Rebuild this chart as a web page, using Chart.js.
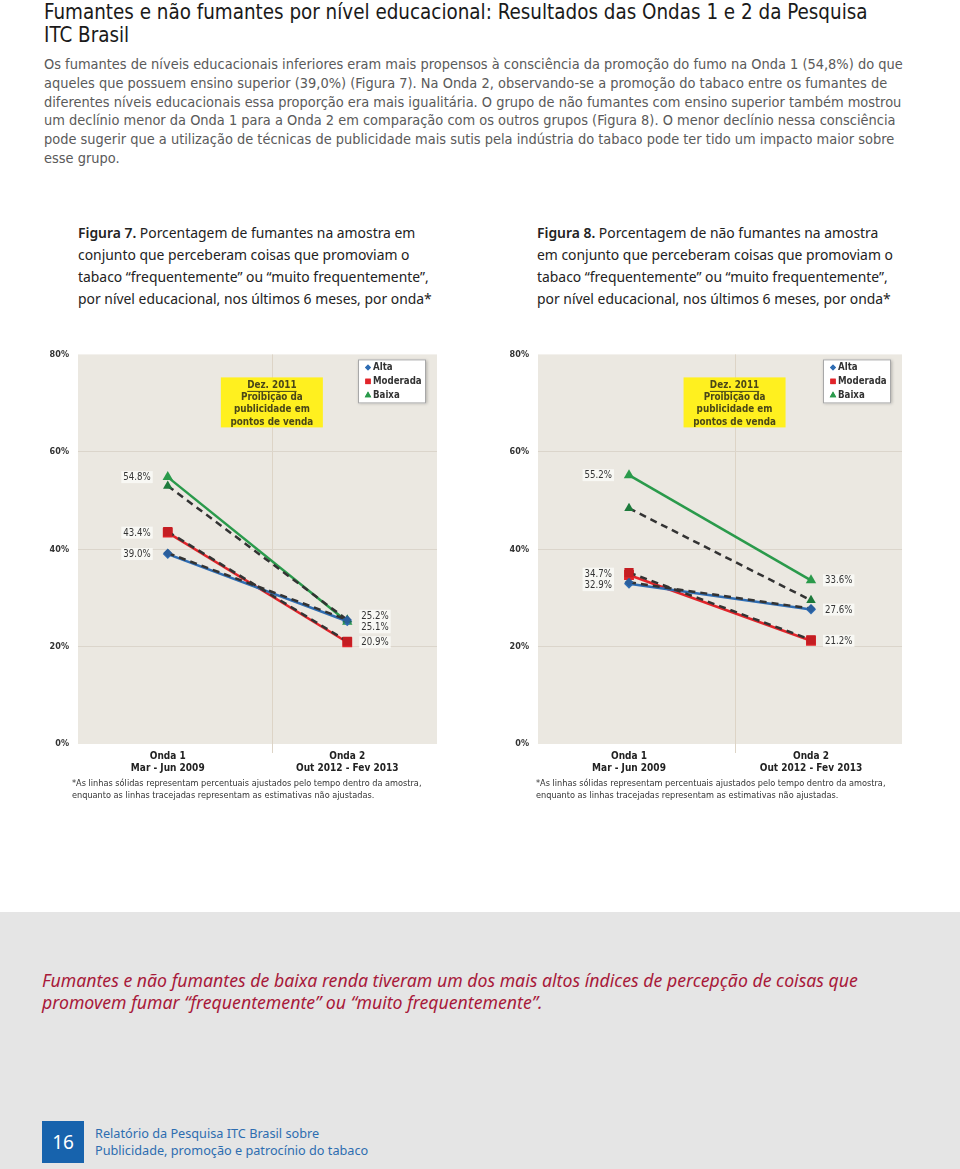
<!DOCTYPE html>
<html lang="pt">
<head>
<meta charset="utf-8">
<title>Figuras 7 e 8</title>
<script src="https://cdn.jsdelivr.net/npm/chart.js@4.4.1/dist/chart.umd.min.js"></script>
<style>
  body { margin: 0; width: 960px; height: 1169px; position: relative; background: #fff; overflow: hidden;
         font-family: "DejaVu Sans Condensed", sans-serif; }
  .abs { position: absolute; white-space: nowrap; }
  h1 { position: absolute; left: 44px; top: 1px; margin: 0; font-size: 20.4px; line-height: 23px;
       font-weight: normal; color: #1a1a1a; white-space: nowrap; }
  .intro { left: 44px; top: 55px; font-size: 14.45px; line-height: 18.8px; color: #5a5a5a; }
  .caption { top: 222px; font-family: "Noto Sans", sans-serif; font-size: 13.9px; line-height: 22px; color: #222; }
  .caption b { font-weight: 600; }
  .note { font-size: 9.1px; line-height: 11.7px; color: #333; }
  .band { left: 0; top: 912px; width: 960px; height: 257px; background: #e5e5e5; }
  .quote { left: 42px; top: 969px; font-family: "Noto Sans", sans-serif; font-style: italic;
           font-size: 17.7px; line-height: 22px; color: #a8193a; }
  .page { left: 42px; top: 1121px; width: 42px; height: 42px; background: #1763ad; color: #fff;
          font-family: "Noto Sans", sans-serif; font-size: 19px; line-height: 42px; text-align: center; }
  .footer { left: 95px; top: 1125px; font-family: "Noto Sans", sans-serif; font-size: 12.7px; line-height: 17px; color: #2d6db0; }
  canvas { position: absolute; }
</style>
</head>
<body>
<h1>Fumantes e não fumantes por nível educacional: Resultados das Ondas 1 e 2 da Pesquisa<br>ITC Brasil</h1>
<div class="abs intro">Os fumantes de níveis educacionais inferiores eram mais propensos à consciência da promoção do fumo na Onda 1 (54,8%) do que<br>aqueles que possuem ensino superior (39,0%) (Figura 7). Na Onda 2, observando-se a promoção do tabaco entre os fumantes de<br>diferentes níveis educacionais essa proporção era mais igualitária. O grupo de não fumantes com ensino superior também mostrou<br>um declínio menor da Onda 1 para a Onda 2 em comparação com os outros grupos (Figura 8). O menor declínio nessa consciência<br>pode sugerir que a utilização de técnicas de publicidade mais sutis pela indústria do tabaco pode ter tido um impacto maior sobre<br>esse grupo.</div>

<div class="abs caption" style="left:78px"><b>Figura 7.</b> Porcentagem de fumantes na amostra em<br>conjunto que perceberam coisas que promoviam o<br>tabaco “frequentemente” ou “muito frequentemente”,<br>por nível educacional, nos últimos 6 meses, por onda*</div>
<div class="abs caption" style="left:537px"><b>Figura 8.</b> Porcentagem de não fumantes na amostra<br>em conjunto que perceberam coisas que promoviam o<br>tabaco “frequentemente” ou “muito frequentemente”,<br>por nível educacional, nos últimos 6 meses, por onda*</div>

<canvas id="fig7" style="left:40px; top:340px" width="420" height="444"></canvas>
<canvas id="fig8" style="left:500px; top:340px" width="420" height="444"></canvas>

<div class="abs note" style="left:72px; top:778px">*As linhas sólidas representam percentuais ajustados pelo tempo dentro da amostra,<br>enquanto as linhas tracejadas representam as estimativas não ajustadas.</div>
<div class="abs note" style="left:536px; top:778px">*As linhas sólidas representam percentuais ajustados pelo tempo dentro da amostra,<br>enquanto as linhas tracejadas representam as estimativas não ajustadas.</div>

<div class="abs band"></div>
<div class="abs quote">Fumantes e não fumantes de baixa renda tiveram um dos mais altos índices de percepção de coisas que<br>promovem fumar “frequentemente” ou “muito frequentemente”.</div>
<div class="abs page">16</div>
<div class="abs footer">Relatório da Pesquisa ITC Brasil sobre<br>Publicidade, promoção e patrocínio do tabaco</div>

<script>
const waves = [['Onda 1', 'Mar - Jun 2009'], ['Onda 2', 'Out 2012 - Fev 2013']]
const groups = ['Alta', 'Moderada', 'Baixa']
const yTicks = [0, 20, 40, 60, 80]

// Figura 7: fumantes (solid = adjusted, raw = dashed, unadjusted)
const fig7Alta = [39.0, 25.2]
const fig7Moderada = [43.4, 20.9]
const fig7Baixa = [54.8, 25.1]
const fig7AltaRaw = [39.2, 25.5]
const fig7ModeradaRaw = [43.6, 21.1]
const fig7BaixaRaw = [53.0, 25.5]

// Figura 8: não fumantes
const fig8Alta = [32.9, 27.6]
const fig8Moderada = [34.7, 21.2]
const fig8Baixa = [55.2, 33.6]
const fig8AltaRaw = [33.2, 27.8]
const fig8ModeradaRaw = [35.2, 21.4]
const fig8BaixaRaw = [48.4, 29.5]

// Dez. 2011 ad ban, as a category index between the two waves
const banAt = 0.58
const banNote = ['Dez. 2011', 'Proibição da', 'publicidade em', 'pontos de venda']

const colors = { Alta: '#2f6db3', Moderada: '#e1242a', Baixa: '#2a9a4b' }
const rawColors = { Alta: '#2a5e9c', Moderada: '#c41d22', Baixa: '#1d7a3b' }
const shapes = { Alta: 'rectRot', Moderada: 'rect', Baixa: 'triangle' }
const sizes = { Alta: 5, Moderada: 7, Baixa: 6 }
const chartFont = '"DejaVu Sans Condensed", sans-serif'

function solid(group, data) {
  return {
    label: group, data, order: 1,
    borderColor: colors[group], backgroundColor: colors[group], borderWidth: 2.5,
    pointStyle: shapes[group], pointRadius: sizes[group], pointBorderWidth: 0
  }
}

function dashed(group, data) {
  return {
    label: group + ' (não ajustada)', data, order: 0, raw: true,
    borderColor: '#333', backgroundColor: rawColors[group], borderWidth: 2.5, borderDash: [7, 5],
    pointStyle: shapes[group], pointRadius: sizes[group] - 0.5, pointBorderWidth: 0
  }
}

const decorations = {
  id: 'decorations',
  beforeDraw(chart) {
    const { ctx, chartArea: a, scales: { x } } = chart
    ctx.save()
    ctx.fillStyle = '#ebe8e1'
    ctx.fillRect(a.left, a.top, a.right - a.left, a.bottom - a.top)
    const bx = Math.round(x.getPixelForValue(banAt)) + 0.5
    ctx.strokeStyle = '#ddd4c6'
    ctx.lineWidth = 1
    ctx.beginPath()
    ctx.moveTo(bx, a.top)
    ctx.lineTo(bx, a.bottom + 9)
    ctx.stroke()
    ctx.restore()
  },
  afterDatasetsDraw(chart) {
    const { ctx, chartArea: a, scales: { x } } = chart
    ctx.save()
    // yellow note at the ban line
    const bx = x.getPixelForValue(banAt)
    const w = 102, h = 50, top = a.top + 23
    ctx.fillStyle = '#fff01f'
    ctx.fillRect(bx - w / 2, top, w, h)
    ctx.fillStyle = '#4a4718'
    ctx.font = 'bold 9.8px ' + chartFont
    ctx.textAlign = 'center'
    ctx.textBaseline = 'middle'
    banNote.forEach((line, i) => {
      const ty = top + 8 + i * 12.2
      ctx.fillText(line, bx, ty)
      if (i === 0) {
        const tw = ctx.measureText(line).width
        ctx.fillRect(bx - tw / 2, ty + 5.5, tw, 1)
      }
    })

    // legend box
    const lw = 68, lh = 44, lx = a.right - 11 - lw, ly = a.top + 5
    ctx.shadowColor = 'rgba(0,0,0,0.25)'
    ctx.shadowBlur = 3
    ctx.shadowOffsetX = 1
    ctx.shadowOffsetY = 1
    ctx.fillStyle = '#fff'
    ctx.fillRect(lx, ly, lw, lh)
    ctx.shadowColor = 'transparent'
    ctx.strokeStyle = '#a8a8a8'
    ctx.strokeRect(lx + 0.5, ly + 0.5, lw - 1, lh - 1)
    ctx.textAlign = 'left'
    ctx.font = 'bold 9.6px ' + chartFont
    groups.forEach((g, i) => {
      const cy = ly + 8 + i * 14
      ctx.fillStyle = colors[g]
      ctx.beginPath()
      Chart.helpers.drawPoint(ctx, { pointStyle: shapes[g], radius: g === 'Alta' ? 3 : 3.8, borderWidth: 0 }, lx + 10, cy)
      ctx.fill()
      ctx.fillStyle = '#333'
      ctx.fillText(g, lx + 15, cy + 0.5)
    })

    // value labels for the adjusted (solid) series, pushed apart when they collide
    ctx.font = '9.6px ' + chartFont
    const sides = [[], []]
    chart.data.datasets.forEach((ds, di) => {
      if (ds.raw) return
      chart.getDatasetMeta(di).data.forEach((pt, i) => {
        sides[i].push({ text: ds.data[i].toFixed(1) + '%', x: pt.x, y: pt.y })
      })
    })
    sides.forEach((list, side) => {
      list.sort((p, q) => p.y - q.y)
      const gap = 11.5
      for (let i = 1; i < list.length; i++) {
        if (list[i].y - list[i - 1].y < gap) {
          const mid = (list[i].y + list[i - 1].y) / 2
          list[i - 1].y = mid - gap / 2
          list[i].y = mid + gap / 2
        }
      }
      list.forEach(l => {
        const tw = ctx.measureText(l.text).width
        const tx = side === 0 ? l.x - 17 - tw : l.x + 14
        ctx.fillStyle = 'rgba(250,249,246,0.9)'
        ctx.fillRect(tx - 2, l.y - 6, tw + 4, 12)
        ctx.fillStyle = '#333'
        ctx.textAlign = 'left'
        ctx.fillText(l.text, tx, l.y + 0.5)
      })
    })
    ctx.restore()
  }
}

function makeChart(id, series, rightPad) {
  const datasets = [
    dashed('Alta', series.altaRaw), dashed('Moderada', series.moderadaRaw), dashed('Baixa', series.baixaRaw),
    solid('Alta', series.alta), solid('Moderada', series.moderada), solid('Baixa', series.baixa)
  ]
  return new Chart(document.getElementById(id), {
    type: 'line',
    data: { labels: waves, datasets },
    options: {
      responsive: false,
      animation: false,
      layout: { padding: { top: 12, right: rightPad, bottom: 0, left: 0 } },
      plugins: { legend: { display: false }, tooltip: { enabled: false } },
      scales: {
        x: {
          offset: true,
          grid: { display: false, drawTicks: false },
          border: { display: false },
          ticks: { color: '#222', padding: 6, font: { family: chartFont, size: 10, weight: 'bold', lineHeight: 1.2 } },
          afterFit(scale) { scale.height = 40 }
        },
        y: {
          min: yTicks[0], max: yTicks[yTicks.length - 1],
          afterBuildTicks(scale) { scale.ticks = yTicks.map(v => ({ value: v })) },
          grid: { color: ctx => (ctx.tick && ctx.tick.value > 0 && ctx.tick.value < 80) ? '#dbd5cb' : 'transparent', drawTicks: false },
          border: { display: false },
          ticks: { color: '#333', padding: 9, font: { family: chartFont, size: 9, weight: 'bold' }, callback: v => v + '%' },
          afterFit(scale) { scale.width = 38 }
        }
      }
    },
    plugins: [decorations]
  })
}

makeChart('fig7', {
  alta: fig7Alta, moderada: fig7Moderada, baixa: fig7Baixa,
  altaRaw: fig7AltaRaw, moderadaRaw: fig7ModeradaRaw, baixaRaw: fig7BaixaRaw
}, 23)

makeChart('fig8', {
  alta: fig8Alta, moderada: fig8Moderada, baixa: fig8Baixa,
  altaRaw: fig8AltaRaw, moderadaRaw: fig8ModeradaRaw, baixaRaw: fig8BaixaRaw
}, 18)
</script>
</body>
</html>
